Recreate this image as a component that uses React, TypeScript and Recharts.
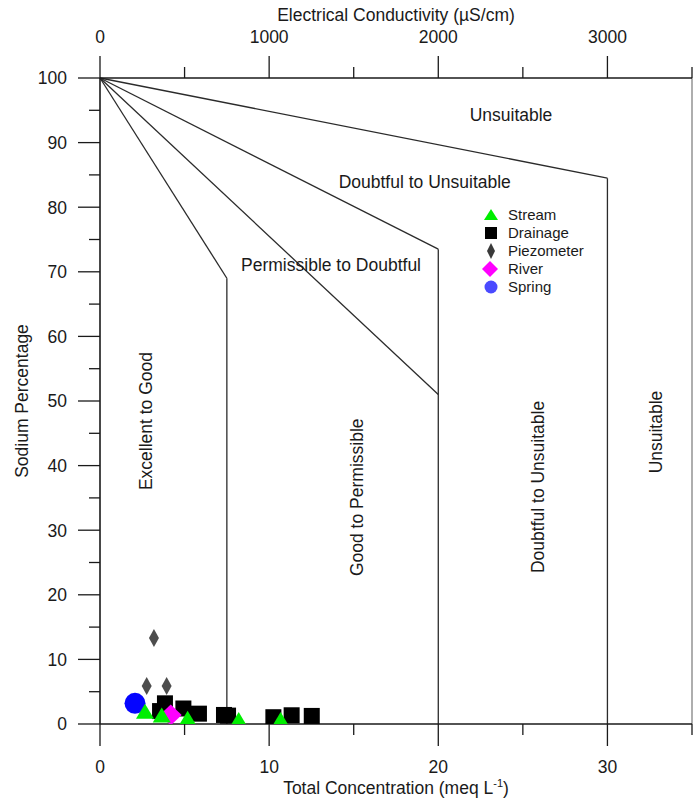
import React from 'react';
import {
  ScatterChart,
  Scatter,
  XAxis,
  YAxis,
  ReferenceLine,
  ReferenceDot,
  Legend,
} from 'recharts';

const FONT = '"Liberation Sans", Arial, Helvetica, sans-serif';
const INK = '#1a1a1a';

// Sample groups: total concentration (meq/L) vs sodium percentage
const streamConc = [2.66, 3.65, 5.18, 8.2, 10.68];
const streamNa = [1.6, 1.0, 0.5, 0.3, 0.3];
const drainageConc = [3.84, 3.55, 4.93, 5.85, 7.33, 7.57, 10.25, 11.33, 12.52];
const drainageNa = [3.2, 2.0, 2.4, 1.6, 1.4, 1.3, 1.05, 1.35, 1.25];
const piezometerConc = [3.19, 2.76, 3.94];
const piezometerNa = [13.3, 5.9, 5.9];
const riverConc = [4.18];
const riverNa = [1.4];
const springConc = [2.07];
const springNa = [3.2];

// Axis ticks
const concTicks = [0, 5, 10, 15, 20, 25, 30, 35];
const ecTicks = [0, 500, 1000, 1500, 2000, 2500, 3000, 3500];
const naTicks = [0, 5, 10, 15, 20, 25, 30, 35, 40, 45, 50, 55, 60, 65, 70, 75, 80, 85, 90, 95, 100];

// Classification boundaries (start / end points in meq/L, %Na)
const boundaryStart = [
  [0, 100], [7.5, 69], [0, 100], [0, 100], [20, 73.5], [0, 100], [30, 84.5],
];
const boundaryEnd = [
  [7.5, 69], [7.5, 0], [20, 51], [20, 73.5], [20, 0], [30, 84.5], [30, 0],
];

// Class names and their anchor points inside the diagram
const regionNames = [
  'Unsuitable',
  'Doubtful to Unsuitable',
  'Permissible to Doubtful',
  'Excellent to Good',
  'Good to Permissible',
  'Doubtful to Unsuitable',
  'Unsuitable',
];
const regionX = [24.3, 19.2, 13.66, 2.72, 15.19, 25.9, 32.87];
const regionY = [94.3, 83.9, 71.05, 46.9, 35.1, 36.7, 45.2];
const regionVertical = [false, false, false, true, true, true, true];

const toPoints = (xs: number[], ys: number[]) => xs.map((x, i) => ({ x, y: ys[i] }));

type ShapeProps = { cx?: number; cy?: number };

const TriangleMark = ({ cx = 0, cy = 0 }: ShapeProps) => {
  const w = 18;
  const h = 15;
  return (
    <polygon
      points={`${cx},${cy - (2 * h) / 3} ${cx - w / 2},${cy + h / 3} ${cx + w / 2},${cy + h / 3}`}
      fill="#00ee00"
    />
  );
};
const SquareMark = ({ cx = 0, cy = 0 }: ShapeProps) => (
  <rect x={cx - 8} y={cy - 8} width={16} height={16} fill="#000" />
);
const ThinDiamondMark = ({ cx = 0, cy = 0 }: ShapeProps) => (
  <polygon points={`${cx},${cy - 9} ${cx + 5},${cy} ${cx},${cy + 9} ${cx - 5},${cy}`} fill="#4d4d4d" />
);
const DiamondMark = ({ cx = 0, cy = 0 }: ShapeProps) => (
  <polygon points={`${cx},${cy - 10.5} ${cx + 11},${cy} ${cx},${cy + 10.5} ${cx - 11},${cy}`} fill="#ff00ff" />
);
const CircleMark = ({ cx = 0, cy = 0 }: ShapeProps) => <circle cx={cx} cy={cy} r={10.5} fill="#0505ff" />;

const LegendTriangle = () => <polygon points="10,3 3,14 17,14" fill="#00ee00" />;
const LegendSquare = () => <rect x={4} y={3} width={12} height={12} fill="#000" />;
const LegendThinDiamond = () => <polygon points="10,1 14,9 10,17 6,9" fill="#3a3a3a" />;
const LegendDiamond = () => <polygon points="9,1 17,9 9,17 1,9" fill="#ff00ff" />;
const LegendCircle = () => <circle cx={10} cy={9} r={6.5} fill="#4a4aff" />;

const seriesNames = ['Stream', 'Drainage', 'Piezometer', 'River', 'Spring'];
const legendIcons = [LegendTriangle, LegendSquare, LegendThinDiamond, LegendDiamond, LegendCircle];

const LegendBox = () => (
  <div style={{ fontFamily: FONT, fontSize: 15, color: INK }}>
    {seriesNames.map((name, i) => {
      const Icon = legendIcons[i];
      return (
        <div key={name} style={{ display: 'flex', alignItems: 'center', height: 18 }}>
          <svg width={20} height={18} style={{ display: 'block' }}>
            <Icon />
          </svg>
          <span style={{ marginLeft: 7, lineHeight: '18px' }}>{name}</span>
        </div>
      );
    })}
  </div>
);

const tickText = { fontFamily: FONT, fontSize: 17.5, fill: INK };

const LeftTick = (props: any) => {
  const { x, y, payload } = props;
  const major = payload.value % 10 === 0;
  return (
    <g>
      <line x1={x - (major ? 22 : 11)} x2={x} y1={y} y2={y} stroke={INK} strokeWidth={1.3} />
      {major && (
        <text x={x - 33} y={y} dy="0.36em" textAnchor="end" {...tickText}>
          {payload.value}
        </text>
      )}
    </g>
  );
};

const BottomTick = (props: any) => {
  const { x, y, payload } = props;
  const major = payload.value % 10 === 0;
  return (
    <g>
      <line x1={x} x2={x} y1={y} y2={y + (major ? 22 : 11)} stroke={INK} strokeWidth={1.3} />
      {major && (
        <text x={x} y={y + 43} dy="0.36em" textAnchor="middle" {...tickText}>
          {payload.value}
        </text>
      )}
    </g>
  );
};

const TopTick = (props: any) => {
  const { x, y, payload } = props;
  const major = payload.value % 1000 === 0;
  return (
    <g>
      <line x1={x} x2={x} y1={y} y2={y - (major ? 22 : 11)} stroke={INK} strokeWidth={1.3} />
      {major && (
        <text x={x} y={y - 41} dy="0.36em" textAnchor="middle" {...tickText}>
          {payload.value}
        </text>
      )}
    </g>
  );
};

const TopTitle = ({ viewBox }: any) => (
  <text x={viewBox.x + viewBox.width / 2} y={15} dy="0.36em" textAnchor="middle" {...tickText}>
    Electrical Conductivity (µS/cm)
  </text>
);

const BottomTitle = ({ viewBox }: any) => (
  <text x={viewBox.x + viewBox.width / 2} y={viewBox.y + 64} dy="0.36em" textAnchor="middle" {...tickText}>
    Total Concentration (meq L
    <tspan dy={-7} fontSize={11}>
      -1
    </tspan>
    <tspan dy={7}>)</tspan>
  </text>
);

const LeftTitle = ({ viewBox }: any) => {
  const cy = viewBox.y + viewBox.height / 2;
  return (
    <text
      x={22}
      y={cy}
      dy="0.36em"
      textAnchor="middle"
      transform={`rotate(-90, 22, ${cy})`}
      {...tickText}
    >
      Sodium Percentage
    </text>
  );
};

const makeRegionShape = (label: string, vertical: boolean) => (p: any) => (
  <text
    x={p.cx}
    y={p.cy}
    dy="0.36em"
    textAnchor="middle"
    transform={vertical ? `rotate(-90, ${p.cx}, ${p.cy})` : undefined}
    {...tickText}
  >
    {label}
  </text>
);

export default function App() {
  const stream = toPoints(streamConc, streamNa);
  const drainage = toPoints(drainageConc, drainageNa);
  const piezometer = toPoints(piezometerConc, piezometerNa);
  const river = toPoints(riverConc, riverNa);
  const spring = toPoints(springConc, springNa);

  return (
    <div style={{ position: 'absolute', left: 0, top: 0, background: '#fff' }}>
      <ScatterChart width={695} height={803} margin={{ top: 0, right: 3, bottom: 0, left: 0 }}>
        <XAxis
          xAxisId="meq"
          type="number"
          dataKey="x"
          orientation="bottom"
          domain={[0, 35]}
          ticks={concTicks}
          interval={0}
          allowDataOverflow
          height={79}
          tickSize={0}
          tickMargin={0}
          tickLine={false}
          axisLine={{ stroke: INK, strokeWidth: 1.6 }}
          tick={<BottomTick />}
          label={<BottomTitle />}
        />
        <XAxis
          xAxisId="ec"
          type="number"
          dataKey="x"
          orientation="top"
          domain={[0, 3500]}
          ticks={ecTicks}
          interval={0}
          allowDataOverflow
          height={78}
          tickSize={0}
          tickMargin={0}
          tickLine={false}
          axisLine={{ stroke: INK, strokeWidth: 1.6 }}
          tick={<TopTick />}
          label={<TopTitle />}
        />
        <YAxis
          yAxisId="pct"
          type="number"
          dataKey="y"
          domain={[0, 100]}
          ticks={naTicks}
          interval={0}
          allowDataOverflow
          width={100}
          tickSize={0}
          tickMargin={0}
          tickLine={false}
          axisLine={{ stroke: INK, strokeWidth: 1.6 }}
          tick={<LeftTick />}
          label={<LeftTitle />}
        />

        {/* right-hand frame edge at 3500 µS/cm */}
        <ReferenceLine xAxisId="ec" yAxisId="pct" x={3500} stroke="#9a9a9a" strokeWidth={1.6} ifOverflow="visible" />

        {boundaryStart.map((s, i) => (
          <ReferenceLine
            key={`b${i}`}
            xAxisId="meq"
            yAxisId="pct"
            ifOverflow="visible"
            segment={[
              { x: s[0], y: s[1] },
              { x: boundaryEnd[i][0], y: boundaryEnd[i][1] },
            ]}
            stroke="#2b2b2b"
            strokeWidth={1.3}
          />
        ))}

        {regionNames.map((name, i) => (
          <ReferenceDot
            key={`r${i}`}
            xAxisId="meq"
            yAxisId="pct"
            x={regionX[i]}
            y={regionY[i]}
            r={0}
            ifOverflow="visible"
            shape={makeRegionShape(name, regionVertical[i])}
          />
        ))}

        <Scatter name="Spring" data={spring} xAxisId="meq" yAxisId="pct" shape={<CircleMark />} isAnimationActive={false} />
        <Scatter name="Piezometer" data={piezometer} xAxisId="meq" yAxisId="pct" shape={<ThinDiamondMark />} isAnimationActive={false} />
        <Scatter name="Drainage" data={drainage} xAxisId="meq" yAxisId="pct" shape={<SquareMark />} isAnimationActive={false} />
        <Scatter name="River" data={river} xAxisId="meq" yAxisId="pct" shape={<DiamondMark />} isAnimationActive={false} />
        <Scatter name="Stream" data={stream} xAxisId="meq" yAxisId="pct" shape={<TriangleMark />} isAnimationActive={false} />

        <Legend
          layout="vertical"
          align="center"
          verticalAlign="middle"
          content={<LegendBox />}
          wrapperStyle={{ position: 'absolute', left: 481, top: 206, width: 130, height: 90 }}
        />
      </ScatterChart>
    </div>
  );
}
